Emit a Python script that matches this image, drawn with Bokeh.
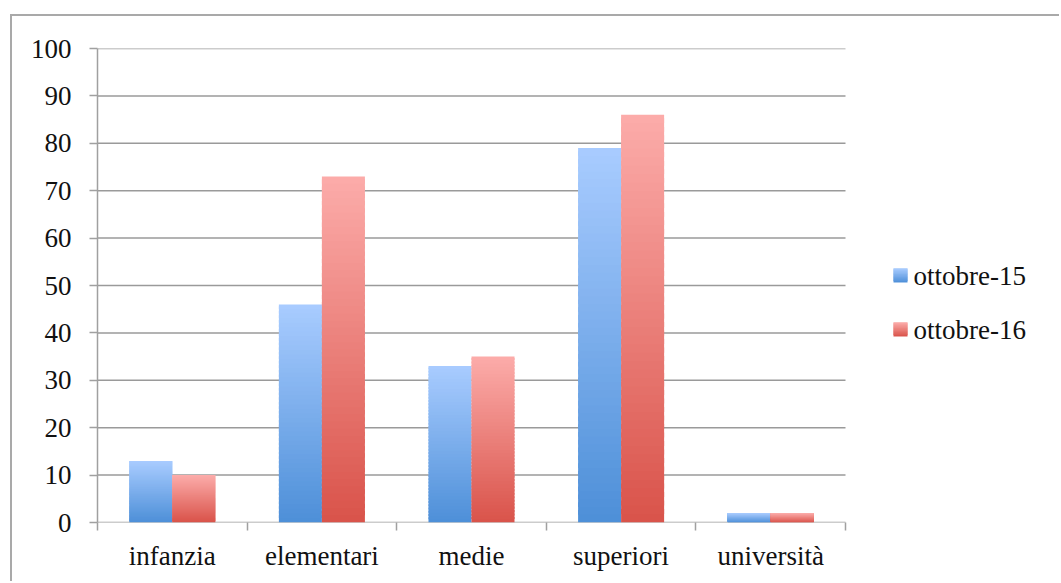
import numpy as np
from bokeh.plotting import figure
from bokeh.models import FixedTicker, ColumnDataSource, Range1d
from bokeh.core.properties import value
from bokeh.embed import file_html
from bokeh.resources import INLINE

categories = ["infanzia", "elementari", "medie", "superiori", "università"]
series_names = ["ottobre-15", "ottobre-16"]
ott15 = [13, 46, 33, 79, 2]
ott16 = [10, 73, 35, 86, 2]
y_ticks = [0, 10, 20, 30, 40, 50, 60, 70, 80, 90, 100]

FONT = "Liberation Serif"
blue_top, blue_bot = (169, 204, 255), (77, 143, 216)
red_top, red_bot = (252, 172, 170), (217, 83, 74)

def mix(c1, c2, t):
    return "#%02x%02x%02x" % tuple(int(round(a + (b - a) * t)) for a, b in zip(c1, c2))

ncat = len(categories)
PX_X = 748 / ncat      # pixels per category unit
PX_Y = 474 / 100       # pixels per value unit
x_max = ncat + (1061 - 845) / PX_X

p = figure(width=1049, height=567, output_backend="svg", toolbar_location=None,
           x_range=Range1d(0, x_max), y_range=Range1d(0, 100),
           min_border_left=85, min_border_top=32, min_border_right=0, min_border_bottom=61,
           margin=(14, 0, 0, 10))
p.styles = {"border-left": "2px solid #a9a9a9", "border-top": "2px solid #a9a9a9"}
p.outline_line_color = None
p.background_fill_color = "white"
p.border_fill_color = "white"

# gridlines limited to the category area
p.segment(x0=[0] * len(y_ticks), x1=[ncat] * len(y_ticks), y0=y_ticks, y1=y_ticks,
          line_color="#9a9a9a", line_width=1.5)

def gradient_quads(lefts, rights, bottoms, tops, ctop, cbot, n):
    L, R, B, T, C = [], [], [], [], []
    for l, r, b, t in zip(lefts, rights, bottoms, tops):
        edges = np.linspace(b, t, n + 1)
        step = (t - b) / n
        for k in range(n):
            L.append(l); R.append(r)
            B.append(edges[k])
            T.append(min(edges[k + 1] + max(step * 0.6, 0.3), t))
            C.append(mix(cbot, ctop, (k + 0.5) / n))
    return ColumnDataSource(dict(left=L, right=R, bottom=B, top=T, color=C))

bar_w = 0.2875
for vals, ctop, cbot, off in [(ott15, blue_top, blue_bot, -bar_w / 2), (ott16, red_top, red_bot, bar_w / 2)]:
    xc = [i + 0.5 + off for i in range(ncat)]
    src = gradient_quads([x - bar_w / 2 for x in xc], [x + bar_w / 2 for x in xc],
                         [0] * ncat, vals, ctop, cbot, 48)
    p.quad(left="left", right="right", bottom="bottom", top="top", fill_color="color",
           line_color=None, source=src)

# legend (drawn manually, positioned in pixels converted to data units)
leg_x = (893 - 97) / PX_X
sq_w = 14 / PX_X
sq_h = 14 / PX_Y
leg_centers = [(522 - 275) / PX_Y, (522 - 329) / PX_Y]
for (ctop, cbot), yc in zip([(blue_top, blue_bot), (red_top, red_bot)], leg_centers):
    src = gradient_quads([leg_x], [leg_x + sq_w], [yc - sq_h / 2], [yc + sq_h / 2], ctop, cbot, 10)
    p.quad(left="left", right="right", bottom="bottom", top="top", fill_color="color",
           line_color=None, source=src)
p.text(x=[leg_x + sq_w + 6 / PX_X] * 2, y=leg_centers, text=series_names,
       text_font=value(FONT), text_font_size="27px", text_color="#111111",
       text_baseline="middle", text_align="left")

# y axis
p.yaxis.ticker = FixedTicker(ticks=y_ticks)
p.yaxis.axis_line_color = "#a0a0a0"
p.yaxis.axis_line_width = 1.5
p.yaxis.major_tick_line_color = "#a0a0a0"
p.yaxis.major_tick_line_width = 1.5
p.yaxis.major_tick_out = 8
p.yaxis.major_tick_in = 0
p.yaxis.minor_tick_line_color = None
p.yaxis.major_label_standoff = 18
p.yaxis.major_label_text_font = FONT
p.yaxis.major_label_text_font_size = "27px"
p.yaxis.major_label_text_color = "#111111"

# x axis
p.xaxis.ticker = FixedTicker(ticks=[i + 0.5 for i in range(ncat)],
                             minor_ticks=list(range(ncat + 1)))
p.xaxis.major_label_overrides = {i + 0.5: c for i, c in enumerate(categories)}
p.xaxis.axis_line_color = None
p.xaxis.major_tick_line_color = None
p.xaxis.minor_tick_line_color = "#a0a0a0"
p.xaxis.minor_tick_line_width = 1.5
p.xaxis.minor_tick_out = 8
p.xaxis.minor_tick_in = 0
p.xaxis.major_label_standoff = 10
p.xaxis.major_label_text_font = FONT
p.xaxis.major_label_text_font_size = "27px"
p.xaxis.major_label_text_color = "#111111"

p.xgrid.grid_line_color = None
p.ygrid.grid_line_color = None

open("out.html", "w").write(file_html(p, INLINE))
